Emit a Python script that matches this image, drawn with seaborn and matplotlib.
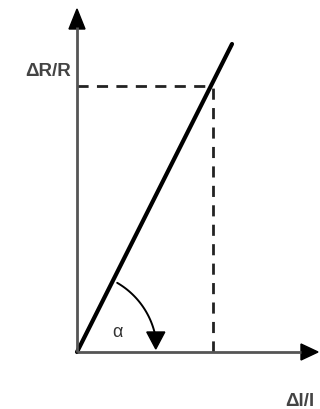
import numpy as np
import matplotlib
matplotlib.use("Agg")
import matplotlib.pyplot as plt
import seaborn as sns
import pandas as pd

# Linear relation between relative elongation and relative resistance change
strain = [0, 155]
resistance = [0, 308]
# Reading point marked by dashed guides
read_x = 136
read_y = 266
# Angle marker
arc_radius = 80

sns.set_theme(style="white")
plt.rcParams['font.family'] = ['Liberation Sans', 'DejaVu Sans']

fig = plt.figure(figsize=(3.2, 4.1), dpi=100)
ax = fig.add_axes([0, 0, 1, 1])
ax.set_xlim(-77, 243)
ax.set_ylim(-57, 353)
ax.axis("off")

df = pd.DataFrame({"strain": strain, "resistance": resistance})
sns.lineplot(data=df, x="strain", y="resistance", ax=ax, color="black",
             linewidth=3, legend=False)

# Coordinate axes with arrow heads
axis_col = "#555555"
ax.plot([0, 224], [0, 0], color=axis_col, lw=2, solid_capstyle="butt")
ax.plot([0, 0], [0, 325], color=axis_col, lw=2, solid_capstyle="butt")
ax.add_patch(plt.Polygon([[224, 8], [241, 0], [224, -8]], closed=True,
                         color="black"))
ax.add_patch(plt.Polygon([[-8, 323], [0, 343], [8, 323]], closed=True,
                         color="black"))

# Dashed guides to the reading point
ax.plot([0, read_x], [read_y, read_y], color="#222222", lw=2,
        dashes=(4, 3), zorder=1)
ax.plot([read_x, read_x], [0, read_y], color="#222222", lw=2,
        dashes=(4, 3), zorder=1)

# Angle arc with arrow
slope_ang = np.arctan2(resistance[1], strain[1])
t = np.linspace(slope_ang - 0.06, np.deg2rad(10), 60)
ax.plot(arc_radius * np.cos(t), arc_radius * np.sin(t), color="black", lw=1.4)
tip_x = arc_radius * np.cos(np.deg2rad(10))
ax.add_patch(plt.Polygon([[tip_x - 9, 20], [tip_x + 9, 20], [tip_x, 3]],
                         closed=True, color="black"))
ax.text(40, 20, "α", fontsize=13, color="#333333", ha="center", va="center")

# Axis labels
ax.text(-6, 282, "ΔR/R", fontsize=13.5, fontweight="bold", color="#444444",
        ha="right", va="center")
ax.text(208, -40, "Δl/l", fontsize=13.5, fontweight="bold", color="#444444",
        ha="left", va="top")

fig.savefig("out.png", dpi=100, facecolor="white")
